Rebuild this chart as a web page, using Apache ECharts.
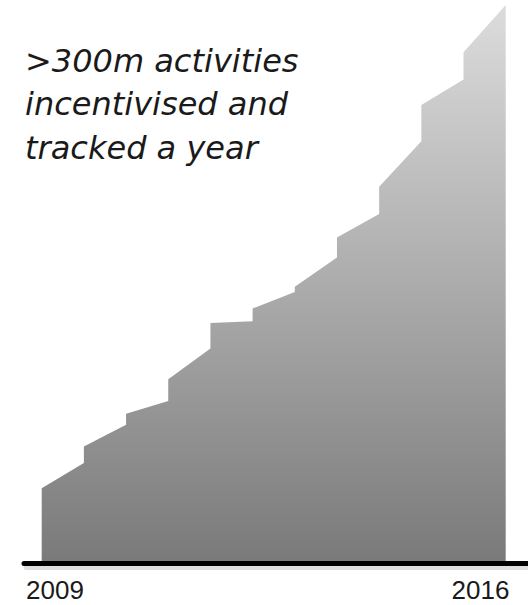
<!DOCTYPE html>
<html>
<head>
<meta charset="utf-8">
<script src="https://cdn.jsdelivr.net/npm/echarts@6/dist/echarts.min.js"></script>
<style>
  html, body { margin: 0; padding: 0; background: #ffffff; }
  #chart { width: 528px; height: 605px; }
</style>
</head>
<body>
<div id="chart"></div>
<script>
// Period index along the time axis (repeated index = step up within the same instant)
const periods = [0, 1, 1, 2, 2, 3, 3, 4, 4, 5, 5, 6, 6, 7, 7, 8, 8, 9, 9, 10, 10, 11];
// Activities incentivised and tracked per year (millions)
const activities = [40, 54, 63, 75, 81, 88, 100, 117, 131, 132, 139, 148, 151, 167, 178, 191, 206, 231, 251, 265, 280, 306];
// Year labels shown beneath the baseline
const yearLabels = ['2009', '2016'];
const headline = '>300m activities\nincentivised and\ntracked a year';

const seriesData = periods.map((p, i) => [p, activities[i]]);

const chart = echarts.init(document.getElementById('chart'), null, { renderer: 'svg' });

// plain horizontal rule built from an axis line
function ruleAxis(gridIndex, color, width) {
  return {
    gridIndex: gridIndex, type: 'value', min: 0, max: 1,
    axisLine: { show: true, onZero: false, lineStyle: { color: color, width: width } },
    axisTick: { show: false },
    axisLabel: { show: false },
    splitLine: { show: false }
  };
}

chart.setOption({
  backgroundColor: '#ffffff',
  animation: false,
  title: {
    text: headline,
    left: 20,
    top: 34,
    textStyle: {
      fontFamily: 'DejaVu Sans',
      fontStyle: 'italic',
      fontWeight: 'normal',
      fontSize: 32,
      lineHeight: 43.5,
      color: '#1a1a1a'
    }
  },
  grid: [
    // area chart
    { left: 41.7, right: 22.3, top: 5, bottom: 44 },
    // soft shadow under the baseline
    { left: 26, right: 0, top: 566, height: 1 },
    // black baseline
    { left: 24, right: 0, top: 562.5, height: 1 },
    // year labels
    { left: 55, right: 47.5, top: 563.5, height: 1 }
  ],
  xAxis: [
    {
      gridIndex: 0, type: 'value', min: 0, max: periods[periods.length - 1],
      show: false
    },
    ruleAxis(1, 'rgba(0,0,0,0.13)', 5),
    ruleAxis(2, '#000000', 5),
    {
      gridIndex: 3, type: 'category', data: yearLabels, boundaryGap: false,
      axisLine: { show: false, onZero: false },
      axisTick: { show: false },
      splitLine: { show: false },
      axisLabel: {
        interval: 0, margin: 12,
        fontFamily: 'Liberation Sans', fontSize: 26, color: '#1a1a1a'
      }
    }
  ],
  yAxis: [
    { gridIndex: 0, type: 'value', min: 0, max: 'dataMax', show: false },
    { gridIndex: 1, type: 'value', min: 0, max: 1, show: false },
    { gridIndex: 2, type: 'value', min: 0, max: 1, show: false },
    { gridIndex: 3, type: 'value', min: 0, max: 1, show: false }
  ],
  series: [{
    type: 'line',
    xAxisIndex: 0,
    yAxisIndex: 0,
    data: seriesData,
    symbol: 'none',
    lineStyle: { width: 0 },
    areaStyle: {
      opacity: 1,
      color: new echarts.graphic.LinearGradient(0, 0, 0, 1, [
        { offset: 0, color: '#dcdcdc' },
        { offset: 0.5, color: '#acacac' },
        { offset: 1, color: '#7a7a7a' }
      ])
    }
  }]
});
</script>
</body>
</html>
